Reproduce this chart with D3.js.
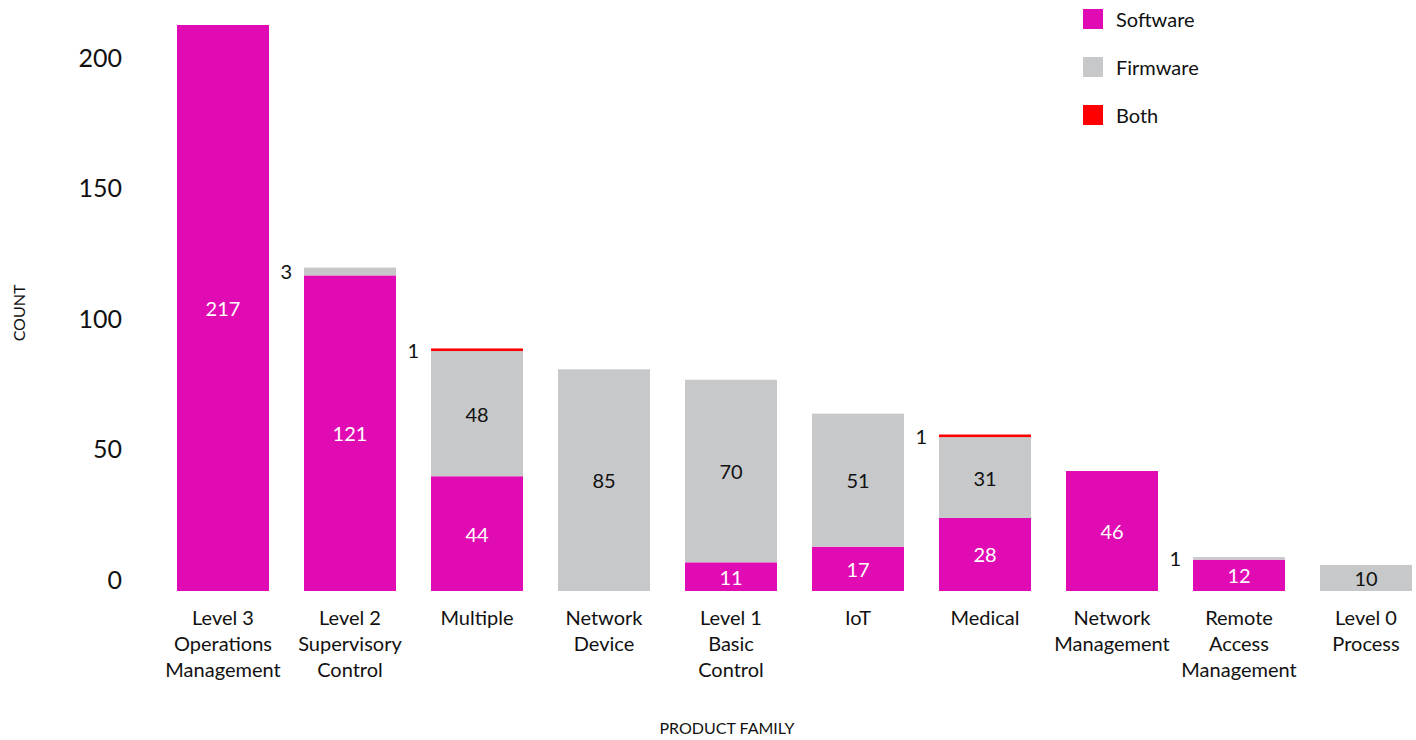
<!DOCTYPE html>
<html><head><meta charset="utf-8">
<script src="https://cdn.jsdelivr.net/npm/d3@7"></script>
<style>body{margin:0;background:#fff}svg{display:block;font-family:Lato,"Open Sans",sans-serif}</style>
</head><body><svg id="c" width="1416" height="740"></svg>
<script>
const categories = [
  ["Level 3","Operations","Management"],
  ["Level 2","Supervisory","Control"],
  ["Multiple"],
  ["Network","Device"],
  ["Level 1","Basic","Control"],
  ["IoT"],
  ["Medical"],
  ["Network","Management"],
  ["Remote","Access","Management"],
  ["Level 0","Process"]
];
const software = [217,121,44,0,11,17,28,46,12,0];
const firmware = [0,3,48,85,70,51,31,0,1,10];
const both     = [0,0,1,0,0,0,1,0,0,0];
const seriesNames = ["Software","Firmware","Both"];
const yTicks = [0,50,100,150,200];
const colors = {Software:"#E10BB4", Firmware:"#C7C8CA", Both:"#FF0000"};

const svg = d3.select("#c");
const keys = categories.map(c => c.join(" "));
const rows = keys.map((k,i)=>({key:k, Software:software[i], Firmware:firmware[i], Both:both[i]}));
const stack = d3.stack().keys(seriesNames)(rows);

const x = d3.scaleBand().domain(keys).range([177,1412]).paddingInner(0.2756).paddingOuter(0);
const bw = x.bandwidth();
const xc = k => x(k) + bw/2;
const y = d3.scaleLinear().domain([0,217]).range([591,25]);

// y tick labels
const yAxis = d3.axisLeft(y).tickValues(yTicks).tickSize(0).tickPadding(0);
const ga = svg.append("g").attr("transform","translate(122,0)").call(yAxis);
ga.select(".domain").remove();
ga.selectAll("text").attr("font-size",25).attr("fill","#111").attr("font-family","Lato, sans-serif")
  .attr("dy","-0.12em");

// bars
stack.forEach(s=>{
  const g = svg.append("g");
  s.forEach((d,i)=>{
    if (d[1]-d[0] <= 0) return;
    g.append("rect").attr("x", x(keys[i])).attr("width", bw)
      .attr("y", y(d[1])).attr("height", y(d[0])-y(d[1]))
      .attr("fill", colors[s.key]);
  });
});

// value labels
stack.forEach(s=>{
  s.forEach((d,i)=>{
    const v = d[1]-d[0];
    if (v <= 0) return;
    const cy = (y(d[0])+y(d[1]))/2;
    if (y(d[0]) - y(d[1]) < 10) {
      svg.append("text").attr("x", x(keys[i]) - 12).attr("y", cy)
        .attr("text-anchor","end").attr("dominant-baseline","central")
        .attr("font-size",20).attr("fill","#111").text(v);
    } else {
      svg.append("text").attr("x", xc(keys[i])).attr("y", cy)
        .attr("text-anchor","middle").attr("dominant-baseline","central")
        .attr("font-size",20).attr("fill", s.key==="Software" ? "#fff" : "#111").text(v);
    }
  });
});

// category labels
categories.forEach((lines,i)=>{
  const t = svg.append("text").attr("text-anchor","middle").attr("font-size",20).attr("fill","#111");
  lines.forEach((l,j)=>{
    t.append("tspan").attr("x", xc(keys[i])).attr("y", 617 + j*26)
      .attr("dominant-baseline","central").text(l);
  });
});

// axis titles
svg.append("text").attr("transform","translate(18,313) rotate(-90)").attr("text-anchor","middle")
  .attr("dominant-baseline","central").attr("font-size",16).attr("fill","#111").text("COUNT");
svg.append("text").attr("x",727).attr("y",727).attr("text-anchor","middle")
  .attr("dominant-baseline","central").attr("font-size",16).attr("fill","#111").text("PRODUCT FAMILY");

// legend
seriesNames.forEach((n,i)=>{
  const g = svg.append("g").attr("transform",`translate(1083,${9+i*48})`);
  g.append("rect").attr("width",20).attr("height",20).attr("fill",colors[n]);
  g.append("text").attr("x",33).attr("y",10).attr("dominant-baseline","central")
    .attr("font-size",20).attr("fill","#111").text(n);
});
</script></body></html>
